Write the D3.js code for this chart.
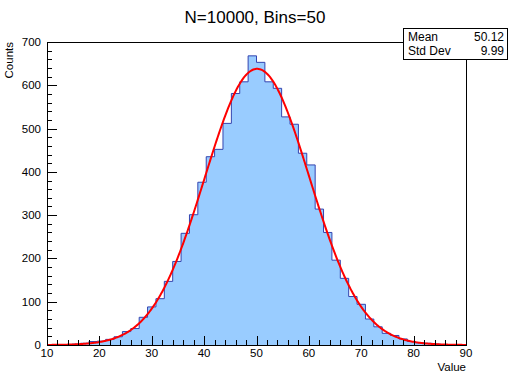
<!DOCTYPE html>
<html>
<head>
<meta charset="utf-8">
<script src="https://cdn.jsdelivr.net/npm/d3@7"></script>
<style>
  html, body { margin: 0; padding: 0; background: #fff; }
  svg { display: block; font-family: "Liberation Sans", Arial, Helvetica, sans-serif; }
</style>
</head>
<body>
<div id="container"></div>
<script>
// histogram: 50 bins from 10 to 90
const binStart = 10;
const binWidth = 1.6;
const counts = [
  0, 0, 1, 2, 4, 8, 9, 13, 19, 31,
  38, 64, 88, 107, 147, 193, 258, 301, 376, 435,
  452, 512, 581, 608, 668, 653, 608, 593, 527, 510,
  443, 416, 314, 260, 196, 154, 112, 94, 60, 42,
  27, 22, 14, 8, 5, 4, 2, 1, 0, 0
];

// gaussian fit drawn on top
const fitConstant = 638;
const fitMean = 50.12;
const fitSigma = 9.99;

// axis ticks
const xTicks = [10, 20, 30, 40, 50, 60, 70, 80, 90];
const yTicks = [0, 100, 200, 300, 400, 500, 600, 700];

// stats box rows
const statNames = ["Mean", "Std Dev"];
const statValues = ["50.12", "9.99"];

const titleText = "N=10000, Bins=50";

// layout
const W = 509, H = 376;
const frame = { left: 47, right: 466, top: 42, bottom: 345 };

const svg = d3.select("#container").append("svg")
  .attr("width", W).attr("height", H);

const x = d3.scaleLinear().domain([10, 90]).range([frame.left, frame.right]);
const y = d3.scaleLinear().domain([0, 700]).range([frame.bottom, frame.top]);

// bins as {x0, x1, n}
const bins = counts.map((n, i) => ({ x0: binStart + i * binWidth, x1: binStart + (i + 1) * binWidth, n: n }));
const stepPts = bins.map(b => [b.x0, b.n]).concat([[bins[bins.length - 1].x1, bins[bins.length - 1].n]]);

// fill
svg.append("path")
  .datum(stepPts)
  .attr("fill", "#99ccff")
  .attr("d", d3.area().curve(d3.curveStepAfter)
    .x(d => x(d[0])).y0(y(0)).y1(d => y(d[1])));

// outline
svg.append("path")
  .datum(stepPts)
  .attr("fill", "none")
  .attr("stroke", "#3344b0")
  .attr("stroke-width", 1)
  .attr("d", d3.line().curve(d3.curveStepAfter)
    .x(d => x(d[0])).y(d => y(d[1])));

// fit curve
const fitPts = d3.range(0, 401).map(k => {
  const v = 10 + k * 0.2;
  return [v, fitConstant * Math.exp(-0.5 * Math.pow((v - fitMean) / fitSigma, 2))];
});
svg.append("path")
  .datum(fitPts)
  .attr("fill", "none")
  .attr("stroke", "#ff0000")
  .attr("stroke-width", 2)
  .attr("d", d3.line().x(d => x(d[0])).y(d => y(d[1])));

// frame
svg.append("rect")
  .attr("x", frame.left + 0.5).attr("y", frame.top + 0.5)
  .attr("width", frame.right - frame.left).attr("height", frame.bottom - frame.top)
  .attr("fill", "none").attr("stroke", "#000").attr("stroke-width", 1);

// x axis ticks (inward)
const xAxis = svg.append("g").attr("stroke", "#000").attr("stroke-width", 1);
xAxis.selectAll("line.minor")
  .data(d3.range(10, 90.01, 2))
  .enter().append("line")
  .attr("x1", d => Math.round(x(d)) + 0.5).attr("x2", d => Math.round(x(d)) + 0.5)
  .attr("y1", frame.bottom).attr("y2", d => frame.bottom - (d % 10 === 0 ? 9 : 5));

svg.append("g").selectAll("text")
  .data(xTicks)
  .enter().append("text")
  .attr("x", d => x(d)).attr("y", frame.bottom + 12)
  .attr("text-anchor", "middle")
  .attr("font-size", 11.5)
  .text(d => d);

// y axis ticks (inward)
const yAxis = svg.append("g").attr("stroke", "#000").attr("stroke-width", 1);
yAxis.selectAll("line")
  .data(d3.range(0, 700.01, 20))
  .enter().append("line")
  .attr("y1", d => Math.round(y(d)) + 0.5).attr("y2", d => Math.round(y(d)) + 0.5)
  .attr("x1", frame.left).attr("x2", d => frame.left + (d % 100 === 0 ? 10 : 5));

svg.append("g").selectAll("text")
  .data(yTicks)
  .enter().append("text")
  .attr("x", frame.left - 6).attr("y", d => y(d) + 4)
  .attr("text-anchor", "end")
  .attr("font-size", 11.5)
  .text(d => d);

// axis titles
svg.append("text")
  .attr("x", frame.right).attr("y", 371)
  .attr("text-anchor", "end").attr("font-size", 11.5)
  .text("Value");

svg.append("text")
  .attr("transform", `translate(13,${frame.top}) rotate(-90)`)
  .attr("text-anchor", "end").attr("font-size", 11.5)
  .text("Counts");

// title
svg.append("text")
  .attr("x", 255).attr("y", 23)
  .attr("text-anchor", "middle").attr("font-size", 17)
  .text(titleText);

// stats box
const box = { x: 403, y: 28, w: 105, h: 31 };
svg.append("rect")
  .attr("x", box.x + 0.5).attr("y", box.y + 0.5)
  .attr("width", box.w - 1).attr("height", box.h)
  .attr("fill", "#fff").attr("stroke", "#000").attr("stroke-width", 1);

const rows = svg.append("g").attr("font-size", 12);
rows.selectAll("text.name")
  .data(statNames)
  .enter().append("text")
  .attr("x", box.x + 5).attr("y", (d, i) => box.y + 13 + i * 14)
  .text(d => d);
rows.selectAll("text.val")
  .data(statValues)
  .enter().append("text")
  .attr("x", box.x + box.w - 4).attr("y", (d, i) => box.y + 13 + i * 14)
  .attr("text-anchor", "end")
  .text(d => d);
</script>
</body>
</html>
